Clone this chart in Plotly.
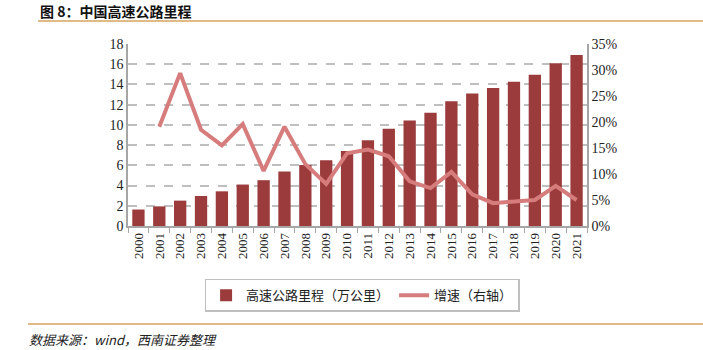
import plotly.graph_objects as go

years = [str(y) for y in range(2000, 2022)]
mileage = [1.63, 1.94, 2.51, 2.97, 3.43, 4.10, 4.53, 5.39, 6.03, 6.51, 7.41, 8.49,
           9.62, 10.44, 11.19, 12.35, 13.10, 13.65, 14.26, 14.96, 16.10, 16.91]
growth = [None, 19.1, 29.4, 18.5, 15.5, 19.6, 10.6, 19.1, 11.9, 8.1, 14.0, 14.7,
          13.4, 8.6, 7.3, 10.4, 6.1, 4.4, 4.7, 5.0, 7.7, 5.0]
left_ticks = list(range(0, 19, 2))
right_ticks = list(range(0, 36, 5))

serif = "Liberation Serif, Times New Roman, serif"
cjk = "Noto Sans CJK SC"

fig = go.Figure()
fig.add_trace(go.Bar(x=years, y=mileage, name="高速公路里程（万公里）",
                     marker=dict(color="#9C3B3B", line=dict(width=0)), yaxis="y"))
fig.add_trace(go.Scatter(x=years, y=growth, name="增速（右轴）", mode="lines",
                         line=dict(color="#D67C7C", width=4), yaxis="y2"))

fig.update_layout(
    width=703, height=350,
    margin=dict(l=128, r=116, t=44, b=124),
    plot_bgcolor="white", paper_bgcolor="white",
    bargap=0.41,
    showlegend=True,
    legend=dict(orientation="h", x=0.51, xanchor="center", y=-0.29, yanchor="top",
                bordercolor="#BFBFBF", borderwidth=1.5,
                font=dict(family=cjk, size=13, color="#222"),
                itemwidth=30, traceorder="normal"),
    xaxis=dict(type="category", tickangle=-90, showline=True, linecolor="#A6A6A6", linewidth=1.5,
               ticks="outside", tickson="boundaries", ticklen=5, tickcolor="#A6A6A6",
               tickfont=dict(family=serif, size=13, color="#222"), showgrid=False),
    yaxis=dict(range=[0, 18], tickvals=left_ticks, showline=True, linecolor="#A6A6A6", linewidth=1.5,
               showgrid=True, gridcolor="#BFBFBF", griddash="dash", gridwidth=1.5,
               tickfont=dict(family=serif, size=14, color="#222"), ticks="", zeroline=False),
    yaxis2=dict(range=[0, 35], tickvals=right_ticks, ticktext=[f"{v}%" for v in right_ticks],
                overlaying="y", side="right", showline=True, linecolor="#A6A6A6", linewidth=1.5,
                showgrid=False, tickfont=dict(family=serif, size=14, color="#222"),
                ticks="", zeroline=False),
    annotations=[
        dict(text="<b>图 8：中国高速公路里程</b>", xref="paper", yref="paper",
             x=(38 - 128) / 459, y=(226 + 1) / 182, xanchor="left", yanchor="top",
             showarrow=False, font=dict(family=cjk, size=14, color="#111")),
        dict(text="<i>数据来源：wind，西南证券整理</i>", xref="paper", yref="paper",
             x=(27 - 128) / 459, y=(226 - 328) / 182, xanchor="left", yanchor="top",
             showarrow=False, font=dict(family=cjk, size=13, color="#222")),
    ],
    shapes=[
        dict(type="line", xref="paper", yref="paper", x0=(38 - 128) / 459, x1=(703 - 128) / 459,
             y0=(226 - 21) / 182, y1=(226 - 21) / 182, line=dict(color="#D9A35F", width=1.5)),
        dict(type="line", xref="paper", yref="paper", x0=(28 - 128) / 459, x1=(703 - 128) / 459,
             y0=(226 - 324) / 182, y1=(226 - 324) / 182, line=dict(color="#D9A35F", width=1.5)),
    ],
)

fig.write_html("out.html")
